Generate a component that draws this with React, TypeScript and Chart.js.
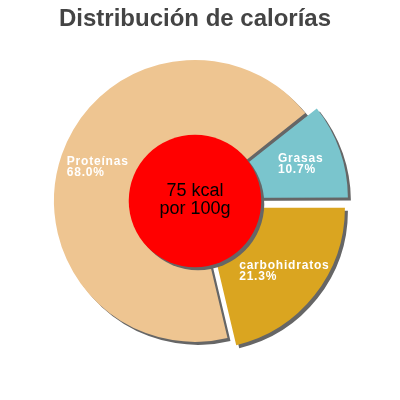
import React, { useEffect, useRef } from "react";
import { Chart, registerables } from "chart.js";

// Register chart.js modules
Chart.register(...registerables);

const titleText = "Distribución de calorías";
const categories = ["Proteínas", "Grasas", "carbohidratos"];
const percentages = [68.0, 10.7, 21.3];
const sliceColors = ["#eec591", "#7ac5cd", "#daa520"];
const sliceOffsets = [0, 36, 44];
const centerLines = ["75 kcal", "por 100g"];

const FONT = "'Liberation Sans', Arial, Helvetica, sans-serif";

// Grasas should end at 3 o'clock, slices run clockwise
const total = percentages.reduce((a, b) => a + b, 0);
const rotation = 90 - ((percentages[0] + percentages[1]) / total) * 360;

// solid drop shadow under every slice
const shadowPlugin = {
  id: "sliceShadow",
  beforeDatasetsDraw(chart: any) {
    const ctx = chart.ctx;
    const dpr = chart.currentDevicePixelRatio || 1;
    ctx.save();
    ctx.shadowColor = "#666";
    ctx.shadowBlur = 0;
    ctx.shadowOffsetX = 3 * dpr;
    ctx.shadowOffsetY = 3 * dpr;
  },
  afterDatasetsDraw(chart: any) {
    chart.ctx.restore();
  },
};

// red disc with the energy text, plus the slice labels
const overlayPlugin = {
  id: "overlay",
  afterDatasetsDraw(chart: any) {
    const ctx = chart.ctx;
    const arcs = chart.getDatasetMeta(0).data as any[];
    if (!arcs.length) return;
    const { x: cx, y: cy, outerRadius } = arcs[0].getProps(
      ["x", "y", "outerRadius"],
      true
    );
    const dpr = chart.currentDevicePixelRatio || 1;

    ctx.save();
    ctx.shadowColor = "#666";
    ctx.shadowBlur = 0;
    ctx.shadowOffsetX = 3 * dpr;
    ctx.shadowOffsetY = 3 * dpr;
    ctx.beginPath();
    ctx.arc(cx, cy, outerRadius * 0.47, 0, Math.PI * 2);
    ctx.fillStyle = "#ff0000";
    ctx.fill();
    ctx.restore();

    ctx.save();
    ctx.fillStyle = "#000";
    ctx.font = `18px ${FONT}`;
    ctx.textAlign = "center";
    ctx.textBaseline = "middle";
    centerLines.forEach((line, j) => {
      ctx.fillText(line, cx, cy - 1 + (j - 0.5) * 18);
    });
    ctx.restore();

    ctx.save();
    ctx.font = `bold 12px ${FONT}`;
    (ctx as any).letterSpacing = "0.8px";
    ctx.fillStyle = "#fff";
    ctx.textAlign = "left";
    ctx.textBaseline = "middle";
    arcs.forEach((arc, i) => {
      const { startAngle, endAngle } = arc.getProps(
        ["startAngle", "endAngle"],
        true
      );
      const mid = (startAngle + endAngle) / 2;
      const shift = (arc.options.offset || 0) / 4;
      const r = outerRadius * 0.73 + shift;
      const lx = cx + Math.cos(mid) * r;
      const ly = cy + Math.sin(mid) * r;
      const lines = [categories[i], percentages[i].toFixed(1) + "%"];
      const w = Math.max(...lines.map((l) => ctx.measureText(l).width));
      lines.forEach((l, j) => ctx.fillText(l, lx - w / 2, ly + (j - 0.5) * 11));
    });
    ctx.restore();
  },
};

const App: React.FC = () => {
  const chartRef = useRef<HTMLCanvasElement | null>(null);

  useEffect(() => {
    document.body.style.margin = "0";
    if (!chartRef.current) return;
    const ctx = chartRef.current.getContext("2d");
    if (!ctx) return;

    const chart = new Chart(ctx, {
      type: "pie",
      data: {
        labels: categories,
        datasets: [
          {
            data: percentages,
            backgroundColor: sliceColors,
            offset: sliceOffsets,
            hoverOffset: 0,
            borderWidth: 0,
          },
        ],
      },
      options: {
        responsive: false,
        animation: false,
        events: [],
        rotation: rotation,
        layout: {
          padding: { left: 32, right: 42, top: 0, bottom: 36 },
        },
        plugins: {
          legend: { display: false },
          tooltip: { enabled: false },
          title: {
            display: true,
            text: titleText,
            color: "#444",
            font: { family: FONT, size: 24, weight: "bold" },
            padding: { top: 5, bottom: 4 },
          },
        },
      },
      plugins: [shadowPlugin, overlayPlugin],
    });

    return () => {
      chart.destroy();
    };
  }, []);

  return (
    <div style={{ width: "400px", height: "400px" }}>
      <canvas ref={chartRef} width={400} height={400}></canvas>
    </div>
  );
};

export default App;
